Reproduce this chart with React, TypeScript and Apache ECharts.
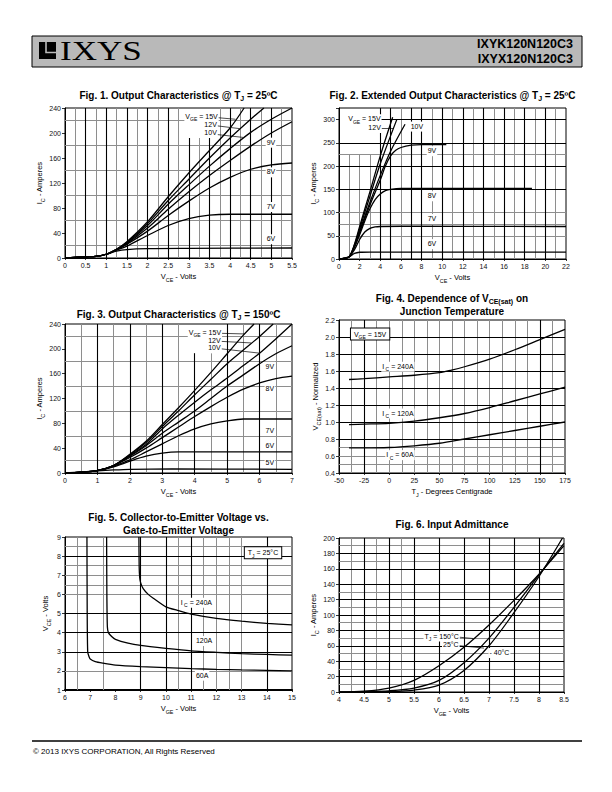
import React, { useEffect, useRef } from "react";
import * as echarts from "echarts";

const FONT = "'Liberation Sans', Arial, Helvetica, sans-serif";
const NARROW = "'Liberation Sans Narrow', 'Arial Narrow', 'Liberation Sans', Arial, sans-serif";
const SERIF = "'Liberation Serif', 'Times New Roman', serif";
const GRAY = "#8e8e8e";
const BLACK = "#000";

// ---------------- Fig. 1  Output characteristics @ 25°C ----------------
const fig1X = [0, 5.5, 0.5];
const fig1Y = [0, 240, 40];
const fig1Vge15 = [[0,0],[0.25,1],[0.5,2],[0.75,2.5],[1,6],[1.25,14],[1.5,26],[2,58],[2.5,98],[3,136],[3.5,172],[4,208],[4.34,240]];
const fig1Vge12 = [[0,0],[0.25,1],[0.5,2],[0.75,2.5],[1,6],[1.25,14],[1.5,25],[2,55],[2.5,92],[3,126],[3.5,160],[4,192],[4.5,222],[4.82,240]];
const fig1Vge10 = [[0,0],[0.25,1],[0.5,2],[0.75,2.5],[1,6],[1.25,14],[1.5,24],[2,52],[2.5,86],[3,117],[3.5,147],[4,175],[4.5,201],[5,222],[5.5,240]];
const fig1Vge9 = [[0,0],[0.25,1],[0.5,2],[0.75,2.5],[1,6],[1.25,13.5],[1.5,23],[2,48],[2.5,78],[3,106],[3.5,132],[4,156],[4.5,179],[5,200],[5.5,218]];
const fig1Vge8 = [[0,0],[0.25,1],[0.5,2],[0.75,2.5],[1,6],[1.25,13],[1.5,22],[2,43],[2.5,68],[3,91],[3.5,112],[4,129],[4.5,142],[5,149],[5.5,152]];
const fig1Vge7 = [[0,0],[0.25,1],[0.5,2],[0.75,2.5],[1,6],[1.25,12.5],[1.5,19],[2,36],[2.5,52],[3,63],[3.5,68.5],[4,70],[4.5,70],[5.5,70]];
const fig1Vge6 = [[0,0],[0.25,1],[0.5,2],[0.75,2.5],[1,6],[1.25,11],[1.5,13.5],[2,15],[3,15.5],[5.5,16]];
const fig1VBlack = [0.5,1,1.5,2,2.5,4,4.5,5];
const fig1VBlackShort = [3,3.5];
const fig1VGray = [0.25,0.75,1.25,1.75,2.25,2.75,3.75,4.25,4.75,5.25];
const fig1VGrayShort = [3.25];
const fig1HGray = [20,60,100,140,180,220];

// ---------------- Fig. 2  Extended output characteristics ----------------
const fig2X = [0, 22, 2];
const fig2Y = [0, 325, 50];
const fig2Vge15 = [[0,0],[0.5,1.5],[1,5],[1.5,32],[2,70],[3,145],[4,222],[5.2,305]];
const fig2Vge12 = [[0,0],[0.5,1.5],[1,5],[1.5,30],[2,65],[3,135],[4,205],[5.6,300]];
const fig2Vge10 = [[0,0],[0.5,1.5],[1,5],[1.5,28],[2,60],[3,122],[4,180],[5,232],[6.4,290]];
const fig2Vge9 = [[0,0],[0.5,1.5],[1,5],[1.5,27],[2,57],[3,116],[4,170],[4.5,200],[5,222],[5.5,234],[6,240],[7,245],[8,246],[10.4,246]];
const fig2Vge8 = [[0,0],[0.5,1.5],[1,5],[1.5,25],[2,52],[2.5,82],[3,108],[3.5,128],[4,140],[4.5,147],[5,150],[6,152],[18.7,152]];
const fig2Vge7 = [[0,0],[0.5,1.5],[1,5],[1.5,20],[2,42],[2.5,58],[3,66],[3.5,69],[4,70],[6,70.5],[22,70]];
const fig2Vge6 = [[0,0],[0.5,1.5],[1,5],[1.5,12],[2,14.5],[3,15],[22,15]];
const fig2VBlack = [4,5,7,8,10,12,14,16,18,20];
const fig2VGray = [6,9,11,13,15,17,19,21];
const fig2VGrayShort = [1,2,3];
const fig2HBlack = [150,200,250];
const fig2HBlackShort = [300];
const fig2HGray = [50,75,100,225];

// ---------------- Fig. 3  Output characteristics @ 150°C ----------------
const fig3X = [0, 7, 1];
const fig3Y = [0, 240, 40];
const fig3Vge15 = [[0,0],[0.5,1.5],[1,4],[1.5,12],[2,30],[2.5,51],[3,78],[3.5,105],[4,133],[4.5,162],[5,192],[5.5,222],[5.83,240]];
const fig3Vge12 = [[0,0],[0.5,1.5],[1,4],[1.5,12],[2,29],[2.5,49],[3,75],[3.5,100],[4,126],[4.5,151],[5,176],[5.5,198],[6,220],[6.42,240]];
const fig3Vge10 = [[0,0],[0.5,1.5],[1,4],[1.5,12],[2,28],[2.5,46],[3,71],[3.5,93],[4,114],[4.5,134],[5,153],[5.5,173],[6,193],[6.5,216],[7,240]];
const fig3Vge9 = [[0,0],[0.5,1.5],[1,4],[1.5,12],[2,27],[2.5,44],[3,64],[3.5,82],[4,100],[4.5,120],[5,140],[5.5,158],[6,176],[6.5,192],[7,205]];
const fig3Vge8 = [[0,0],[0.5,1.5],[1,4],[1.5,12],[2,25],[2.5,40],[3,57],[3.5,74],[4,91],[4.5,107],[5,122],[5.5,135],[6,145],[6.5,152],[7,156]];
const fig3Vge7 = [[0,0],[0.5,1.5],[1,4],[1.5,11],[2,21],[2.5,34],[3,47],[3.5,60],[4,71],[4.5,79],[5,84],[5.5,87],[7,87]];
const fig3Vge6 = [[0,0],[0.5,1.5],[1,4],[1.5,10],[2,19],[2.5,27],[3,32],[3.5,34],[7,34]];
const fig3Vge5 = [[0,0],[0.5,1.5],[1,3.5],[1.5,5],[2,6],[3.3,6.5],[7,6]];
const fig3VBlack = [1,2,3,5,6];
const fig3VBlackShort = [4];
const fig3VGray = [0.5,1.5,2.5,3.5,5.5,6.5];
const fig3VGrayShort = [4.5];
const fig3HGray = [20,60,100,140,180,220];

// ---------------- Fig. 4  VCE(sat) vs junction temperature ----------------
const fig4X = [-50, 175, 25];
const fig4Y = [0.4, 2.2, 0.2];
const fig4Ic240 = [[-40,1.5],[-25,1.51],[0,1.53],[25,1.55],[50,1.58],[62,1.61],[75,1.65],[100,1.74],[125,1.85],[150,1.97],[175,2.09]];
const fig4Ic120 = [[-40,0.97],[-25,0.975],[0,0.985],[25,1.01],[50,1.05],[75,1.1],[100,1.17],[125,1.25],[150,1.33],[175,1.41]];
const fig4Ic60 = [[-40,0.695],[-25,0.695],[0,0.7],[25,0.72],[50,0.75],[75,0.8],[100,0.85],[125,0.9],[150,0.95],[175,1.0]];
const fig4VBlack = [-25,150];
const fig4VGray = [-37.5,-12.5,0,12.5,25,37.5,50,62.5,75,87.5,100,112.5,125,137.5,162.5];
const fig4HBlack = [0.8,1.0,1.2,1.4,1.6,1.8,2.0];
const fig4HGray = [0.5,0.6,0.7];

// ---------------- Fig. 5  VCE vs VGE ----------------
const fig5X = [6, 15, 1];
const fig5Y = [1, 9, 1];
const fig5Ic240 = [[8.93,9],[8.94,7.5],[8.96,6.9],[9.0,6.6],[9.1,6.3],[9.3,6.0],[9.5,5.8],[10,5.35],[10.5,5.15],[11,4.97],[12,4.75],[13,4.6],[14,4.48],[15,4.4]];
const fig5Ic120 = [[7.65,9],[7.66,6],[7.68,4.3],[7.72,4.0],[7.85,3.8],[8,3.65],[8.5,3.45],[9,3.33],[10,3.18],[11,3.05],[12,2.97],[13,2.9],[14,2.86],[15,2.82]];
const fig5Ic60 = [[6.87,9],[6.88,5],[6.9,3.0],[6.95,2.75],[7,2.62],[7.2,2.48],[7.5,2.4],[8,2.3],[9,2.22],[10,2.17],[11,2.12],[12,2.08],[13,2.05],[14,2.03],[15,2.0]];
const fig5VBlack = [9,10,11,14];
const fig5VGray = [6.5,7.5,10.5,11.5,12,12.5,13];
const fig5HBlack = [3,4,5,8];
const fig5HGray = [2,6,6.5,7,7.5,8.5];

// ---------------- Fig. 6  Input admittance ----------------
const fig6X = [4, 8.5, 0.5];
const fig6Y = [0, 200, 20];
const fig6T150 = [[4,0],[4.5,1],[5,5],[5.5,15],[6,34],[6.5,58],[7,87],[7.5,119],[8,153],[8.5,190]];
const fig6T25 = [[4,0],[4.5,0.5],[5,1.5],[5.5,5],[6,15],[6.5,38],[7,70],[7.5,110],[8,152],[8.5,193]];
const fig6Tm40 = [[4.5,0],[5,0.5],[5.5,2.5],[6,9],[6.5,28],[7,60],[7.5,103],[8,150],[8.47,200]];
const fig6VBlack = [4.5,5,5.5,6,6.5,7,7.5,8];
const fig6VGray = [4.25,4.75,5.25];
const fig6HBlack = [20,40,60,80,100,120,140,160,180];
const fig6HGray = [10,30,50,70,90,110,130,170,190];

// ---------------- layout ----------------
const GRIDS = [
  { left: 65, top: 108, width: 227, height: 150 },
  { left: 339, top: 108, width: 227, height: 151 },
  { left: 65, top: 324, width: 227, height: 149 },
  { left: 339, top: 320, width: 226, height: 153 },
  { left: 65, top: 537, width: 227, height: 153 },
  { left: 339, top: 538, width: 225, height: 154 },
];

function subRich(f: number, weight: string = "normal", family: string = FONT) {
  return {
    n: { fontSize: f, fontFamily: family, fontWeight: weight, color: "#000", padding: [0, 0, 2, 0], verticalAlign: "bottom" },
    s: { fontSize: Math.round(f * 0.72 * 10) / 10, fontFamily: family, fontWeight: weight, color: "#000", verticalAlign: "bottom" },
  };
}

const numFmt = (v: number) => String(Math.round(v * 100) / 100);

function xAxisCfg(gi: number, r: number[], name: string, fmt?: (v: number) => string, lw = 1) {
  return {
    type: "value", gridIndex: gi, min: r[0], max: r[1], interval: r[2],
    name, nameLocation: "middle", nameGap: 14,
    nameTextStyle: { rich: subRich(7.5) },
    axisLine: { show: true, onZero: false, lineStyle: { color: BLACK, width: lw } },
    axisTick: { show: true, length: 2, lineStyle: { color: BLACK, width: 0.8 } },
    axisLabel: { fontSize: 7, fontFamily: FONT, color: "#111", margin: 4, formatter: fmt || numFmt },
    splitLine: { show: false },
  };
}
function yAxisCfg(gi: number, r: number[], name: string, fmt?: (v: number) => string, gap = 18) {
  return {
    type: "value", gridIndex: gi, min: r[0], max: r[1], interval: r[2],
    name, nameLocation: "middle", nameGap: gap, nameRotate: 90,
    nameTextStyle: { rich: subRich(7.5) },
    axisLine: { show: true, onZero: false, lineStyle: { color: BLACK, width: 1 } },
    axisTick: { show: true, length: 3, lineStyle: { color: BLACK, width: 0.8 } },
    axisLabel: { fontSize: 7, fontFamily: FONT, color: "#111", margin: 4, formatter: fmt || numFmt },
    splitLine: { show: false },
  };
}

function curve(gi: number, data: number[][], smooth = 0.3) {
  return {
    type: "line", xAxisIndex: gi, yAxisIndex: gi, data, smooth, symbol: "none", showSymbol: false,
    lineStyle: { color: BLACK, width: 1.3 }, z: 3, silent: true,
  };
}

type GL = { v: number[]; dir: "x" | "y"; color: string; from?: number; to?: number };
function gridSeries(gi: number, anchor: number[], specs: GL[]) {
  const data: any[] = [];
  specs.forEach((s) => {
    const ls = { color: s.color, width: s.color === BLACK ? 1.1 : 1, type: "solid" };
    s.v.forEach((v) => {
      if (s.from === undefined) {
        data.push(s.dir === "x" ? { xAxis: v, lineStyle: ls } : { yAxis: v, lineStyle: ls });
      } else {
        data.push(
          s.dir === "x"
            ? [{ coord: [v, s.from], lineStyle: ls }, { coord: [v, s.to] }]
            : [{ coord: [s.from, v], lineStyle: ls }, { coord: [s.to, v] }]
        );
      }
    });
  });
  return {
    type: "line", xAxisIndex: gi, yAxisIndex: gi, data: [anchor], symbol: "none", showSymbol: false,
    lineStyle: { width: 0, opacity: 0 }, z: 1, silent: true,
    markLine: { silent: true, symbol: ["none", "none"], label: { show: false }, z: 1, animation: false, data },
  };
}

function note(text: string, x: number, y: number, boxed = false) {
  return {
    coord: [x, y], symbol: "rect", symbolSize: 1, itemStyle: { color: "rgba(0,0,0,0)" },
    label: {
      show: true, position: "right", distance: 0, formatter: text, rich: subRich(7),
      backgroundColor: "#fff", padding: boxed ? [2, 3, 0, 3] : [1, 1, 0, 1],
      borderColor: boxed ? BLACK : "transparent", borderWidth: boxed ? 1 : 0,
    },
  };
}
function leader(x1: number, y1: number, x2: number, y2: number) {
  return [{ coord: [x1, y1], lineStyle: { color: BLACK, width: 0.7, type: "solid" } }, { coord: [x2, y2] }];
}
function annoSeries(gi: number, anchor: number[], notes: any[], leaders: any[]) {
  return {
    type: "line", xAxisIndex: gi, yAxisIndex: gi, data: [anchor], symbol: "none", showSymbol: false,
    lineStyle: { width: 0, opacity: 0 }, z: 5, silent: true,
    markPoint: { silent: true, animation: false, data: notes },
    markLine: { silent: true, symbol: ["none", "none"], label: { show: false }, animation: false, data: leaders },
  };
}

const VGE15 = "{n|V}{s|GE}{n| = 15V}";
const IC = (a: string) => "{n|I}{s| C}{n| = " + a + "}";

function titleEl(text: string, x: number, y: number) {
  return {
    type: "text", x, y, silent: true,
    style: { text, rich: { t: { fontSize: 10, fontWeight: "bold", fontFamily: NARROW, fill: "#000", color: "#000", padding: [0, 0, 2, 0], verticalAlign: "bottom" }, ts: { fontSize: 7, fontWeight: "bold", fontFamily: NARROW, color: "#000", verticalAlign: "bottom" } }, align: "center", verticalAlign: "middle", fill: "#000" },
  };
}

function buildOption() {
  const grids = GRIDS.map((g) => ({ ...g, show: true, borderColor: BLACK, borderWidth: 1, backgroundColor: "transparent" }));
  const IcName = "{n|I}{s|C}{n| - Amperes}";
  const VceName = "{n|V}{s|CE}{n| - Volts}";
  const VgeName = "{n|V}{s|GE}{n| - Volts}";
  const xAxis = [
    xAxisCfg(0, fig1X, VceName),
    xAxisCfg(1, fig2X, VceName),
    xAxisCfg(2, fig3X, VceName),
    xAxisCfg(3, fig4X, "{n|T}{s|J}{n| - Degrees Centigrade}"),
    xAxisCfg(4, fig5X, VgeName, undefined, 2),
    xAxisCfg(5, fig6X, VgeName),
  ];
  const yAxis = [
    yAxisCfg(0, fig1Y, IcName),
    yAxisCfg(1, fig2Y, IcName, (v: number) => (v % 50 === 0 ? String(v) : "")),
    yAxisCfg(2, fig3Y, IcName),
    yAxisCfg(3, fig4Y, "{n|V}{s|CE(sat)}{n| - Normalized}", (v: number) => v.toFixed(1)),
    yAxisCfg(4, fig5Y, "{n|V}{s|CE}{n| - Volts}", undefined, 14),
    yAxisCfg(5, fig6Y, IcName),
  ];

  const series: any[] = [
    // grid lines
    gridSeries(0, [0, 0], [
      { v: fig1VGray, dir: "x", color: GRAY }, { v: fig1VGrayShort, dir: "x", color: GRAY, from: 0, to: 192 },
      { v: fig1HGray, dir: "y", color: GRAY },
      { v: fig1VBlack, dir: "x", color: BLACK }, { v: fig1VBlackShort, dir: "x", color: BLACK, from: 0, to: 192 },
    ]),
    gridSeries(1, [0, 0], [
      { v: fig2VGray, dir: "x", color: GRAY }, { v: fig2VGrayShort, dir: "x", color: GRAY, from: 0, to: 225 },
      { v: fig2HGray, dir: "y", color: GRAY },
      { v: fig2VBlack, dir: "x", color: BLACK }, { v: fig2HBlack, dir: "y", color: BLACK },
      { v: fig2HBlackShort, dir: "y", color: BLACK, from: 3.8, to: 22 },
    ]),
    gridSeries(2, [0, 0], [
      { v: fig3VGray, dir: "x", color: GRAY }, { v: fig3VGrayShort, dir: "x", color: GRAY, from: 0, to: 193 },
      { v: fig3HGray, dir: "y", color: GRAY },
      { v: fig3VBlack, dir: "x", color: BLACK }, { v: fig3VBlackShort, dir: "x", color: BLACK, from: 0, to: 193 },
    ]),
    gridSeries(3, [-50, 0.4], [
      { v: fig4VGray, dir: "x", color: GRAY }, { v: fig4HGray, dir: "y", color: GRAY },
      { v: fig4VBlack, dir: "x", color: BLACK }, { v: fig4HBlack, dir: "y", color: BLACK },
    ]),
    gridSeries(4, [6, 1], [
      { v: fig5VGray, dir: "x", color: GRAY }, { v: fig5HGray, dir: "y", color: GRAY },
      { v: fig5VBlack, dir: "x", color: BLACK }, { v: fig5HBlack, dir: "y", color: BLACK },
    ]),
    gridSeries(5, [4, 0], [
      { v: fig6VGray, dir: "x", color: GRAY }, { v: fig6HGray, dir: "y", color: GRAY },
      { v: fig6VBlack, dir: "x", color: BLACK }, { v: fig6HBlack, dir: "y", color: BLACK },
    ]),
    // curves
    ...[fig1Vge15, fig1Vge12, fig1Vge10, fig1Vge9, fig1Vge8, fig1Vge7, fig1Vge6].map((d) => curve(0, d)),
    ...[fig2Vge15, fig2Vge12, fig2Vge10, fig2Vge9, fig2Vge8, fig2Vge7, fig2Vge6].map((d) => curve(1, d)),
    ...[fig3Vge15, fig3Vge12, fig3Vge10, fig3Vge9, fig3Vge8, fig3Vge7, fig3Vge6, fig3Vge5].map((d) => curve(2, d)),
    ...[fig4Ic240, fig4Ic120, fig4Ic60].map((d) => curve(3, d)),
    ...[fig5Ic240, fig5Ic120, fig5Ic60].map((d) => curve(4, d, 0.2)),
    ...[fig6T150, fig6T25, fig6Tm40].map((d) => curve(5, d)),
    // annotations
    annoSeries(0, [0, 0], [
      note(VGE15, 2.88, 226), note("{n|12V}", 3.34, 213), note("{n|10V}", 3.34, 200),
      note("{n|9V}", 4.85, 184.5), note("{n|8V}", 4.85, 137), note("{n|7V}", 4.85, 81.6), note("{n|6V}", 4.85, 30),
    ], [leader(3.62, 225, 4.13, 222), leader(3.62, 212, 4.23, 207), leader(3.62, 198, 4.31, 193)]),
    annoSeries(1, [0, 0], [
      note(VGE15, 0.75, 301), note("{n|12V}", 2.7, 282), note("{n|10V}", 6.8, 285),
      note("{n|9V}", 8.45, 232), note("{n|8V}", 8.45, 135), note("{n|7V}", 8.45, 86), note("{n|6V}", 8.45, 32),
    ], [leader(3.78, 300, 5.12, 300), leader(3.8, 282, 5.3, 282)]),
    annoSeries(2, [0, 0], [
      note(VGE15, 3.77, 226), note("{n|12V}", 4.37, 213), note("{n|10V}", 4.37, 201),
      note("{n|9V}", 6.14, 171), note("{n|8V}", 6.14, 135), note("{n|7V}", 6.14, 68), note("{n|6V}", 6.14, 43.5), note("{n|5V}", 6.14, 16.6),
    ], [leader(4.82, 225, 5.53, 224), leader(4.82, 212, 5.74, 209.5), leader(4.82, 200, 6.01, 193)]),
    annoSeries(3, [-50, 0.4], [
      note(VGE15, -38.6, 2.035, true), note(IC("240A"), -8.4, 1.65), note(IC("120A"), -8.4, 1.1), note(IC("60A"), -4.4, 0.61),
    ], []),
    annoSeries(4, [6, 1], [
      note("{n|T}{s|J}{n| = 25°C}", 13.11, 8.17, true), note(IC("240A"), 10.53, 5.56), note("{n|120A}", 11.13, 3.56), note("{n|60A}", 11.13, 1.75),
    ], []),
    annoSeries(5, [4, 0], [
      note("{n|T}{s|J}{n| = 150°C}", 5.68, 72), note("{n|25°C}", 6.05, 61.5), note("{n|- 40°C}", 6.98, 50.6),
    ], [leader(6.35, 71.5, 6.68, 69.5), leader(6.35, 60.5, 6.9, 57)]),
  ];

  const graphic: any[] = [
    { type: "rect", shape: { x: 32, y: 36, width: 550, height: 31 }, style: { fill: "#b9b9b9", stroke: "#000", lineWidth: 1 }, silent: true },
    { type: "rect", shape: { x: 39, y: 42, width: 17, height: 17 }, style: { fill: "#000" }, silent: true },
    { type: "polyline", shape: { points: [[46, 42], [46, 52.5], [56, 52.5]] }, style: { stroke: "#b9b9b9", lineWidth: 1.6, fill: "none" }, silent: true },
    { type: "text", x: 60, y: 51, scaleX: 1.3, silent: true, style: { text: "IXYS", font: `27px ${SERIF}`, fill: "#000", verticalAlign: "middle", align: "left" } },
    { type: "text", x: 573, y: 44, silent: true, style: { text: "IXYK120N120C3", font: `bold 12.5px ${FONT}`, fill: "#000", align: "right", verticalAlign: "middle" } },
    { type: "text", x: 573, y: 59, silent: true, style: { text: "IXYX120N120C3", font: `bold 12.5px ${FONT}`, fill: "#000", align: "right", verticalAlign: "middle" } },
    { type: "line", shape: { x1: 32, y1: 741, x2: 582, y2: 741 }, style: { stroke: "#000", lineWidth: 1.3 }, silent: true },
    { type: "text", x: 33, y: 751, silent: true, style: { text: "© 2013 IXYS CORPORATION, All Rights Reserved", font: `8px ${FONT}`, fill: "#000", verticalAlign: "middle" } },
    titleEl("{t|Fig. 1. Output Characteristics @ T}{ts|J}{t| = 25ºC}", 178.5, 96),
    titleEl("{t|Fig. 2. Extended Output Characteristics @ T}{ts|J}{t| = 25ºC}", 452.5, 96),
    titleEl("{t|Fig. 3. Output Characteristics @ T}{ts|J}{t| = 150ºC}", 178.5, 315),
    titleEl("{t|Fig. 4. Dependence of V}{ts|CE(sat)}{t| on}", 452, 299),
    titleEl("{t|Junction Temperature}", 452, 312.5),
    titleEl("{t|Fig. 5. Collector-to-Emitter Voltage vs.}", 178.5, 518),
    titleEl("{t|Gate-to-Emitter Voltage}", 178.5, 531),
    titleEl("{t|Fig. 6. Input Admittance}", 452, 525),
  ];

  return { animation: false, backgroundColor: "#fff", grid: grids, xAxis, yAxis, series, graphic };
}

export default function App() {
  const ref = useRef<HTMLDivElement>(null);
  useEffect(() => {
    const chart = echarts.init(ref.current!, null, { renderer: "svg" });
    chart.setOption(buildOption() as any);
    return () => chart.dispose();
  }, []);
  return <div ref={ref} style={{ position: "absolute", left: 0, top: 0, width: 612, height: 792, background: "#fff" }} />;
}
